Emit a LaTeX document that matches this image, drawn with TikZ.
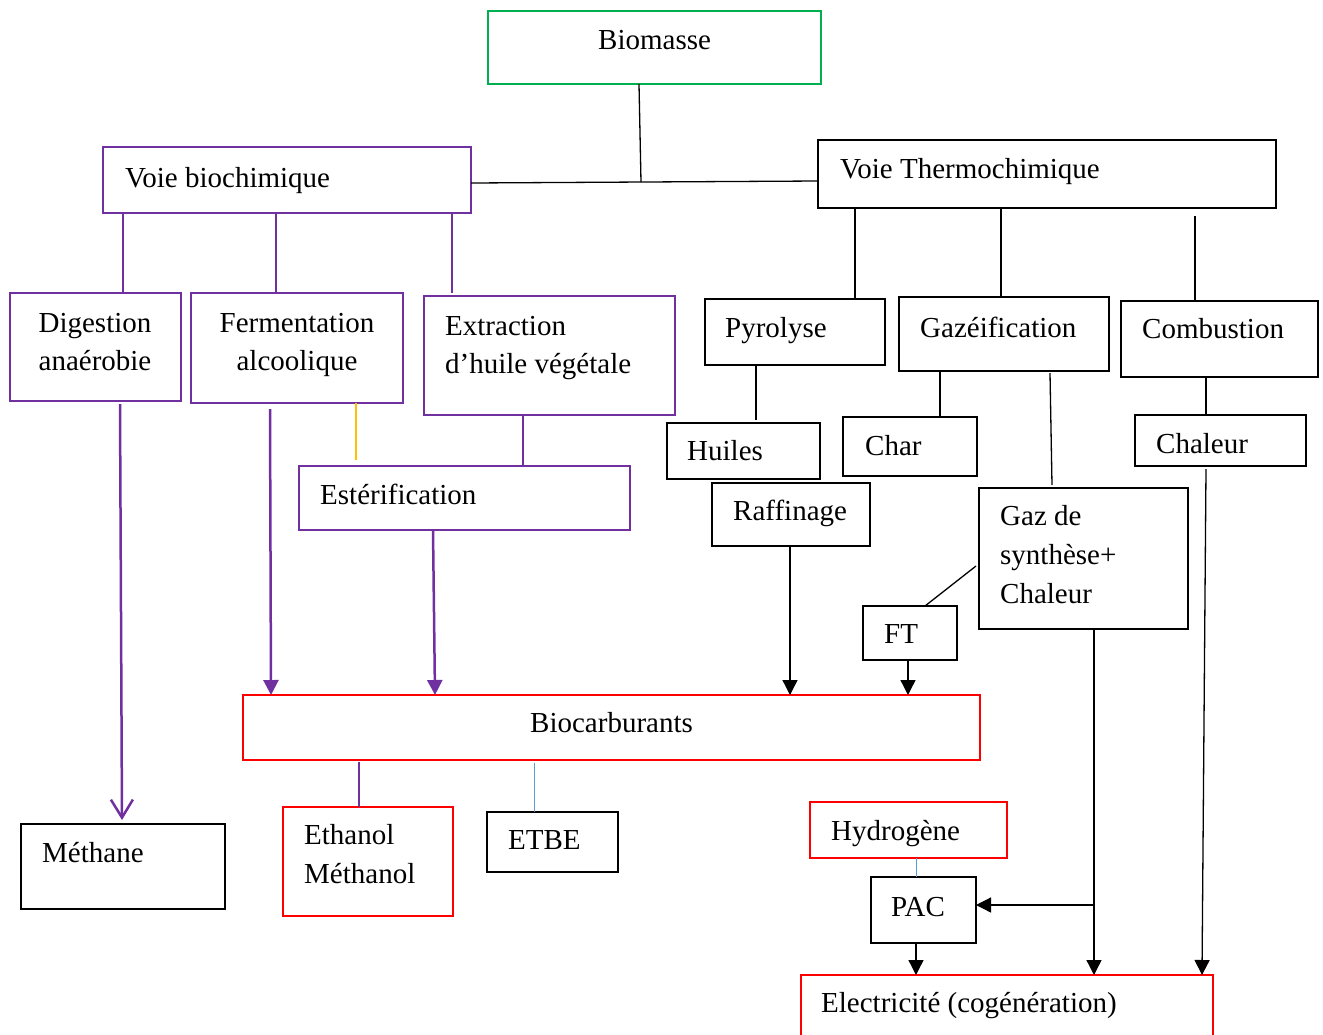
\documentclass[tikz,border=0pt]{standalone}
\usepackage{fontspec}
\setmainfont{Liberation Serif}
\usetikzlibrary{arrows.meta}
\definecolor{vpurple}{RGB}{112,48,160}
\definecolor{vgreen}{RGB}{0,176,80}
\definecolor{vred}{RGB}{255,0,0}
\definecolor{vorange}{RGB}{255,192,0}
\definecolor{vblue}{RGB}{91,155,213}
\newcommand{\bx}[6]{\node[box,draw=#2,minimum width={(#5-#3)*1pt},minimum height={(#6-#4)*1pt}] (#1) at (#3,#4) {};}
\tikzset{
  box/.style={shape=rectangle, anchor=north west, inner sep=0pt, outer sep=0pt, line width=2pt},
  lbl/.style={inner sep=0pt, font=\fontsize{29}{39}\selectfont, text=black},
  conn/.style={line width=1.3pt, draw=black},
  pconn/.style={line width=2.5pt, draw=vpurple},
  arr/.style={-{Triangle[length=15pt,width=15pt]}},
}
\begin{document}
\begin{tikzpicture}[x=1pt,y=-1pt]
\useasboundingbox (0,0) rectangle (1323,1034);
\clip (0,0) rectangle (1323,1034);
\fill[white] (0,0) rectangle (1323,1034);
% boxes
\bx{bio}{vgreen}{488}{11}{821}{84}
\node[lbl,anchor=base west] (tbio) at (598,49) {Biomasse};
\bx{vb}{vpurple}{103}{147}{471}{213}
\node[lbl,anchor=base west] (tvb) at (125,187) {Voie biochimique};
\bx{vt}{black}{818}{140}{1276}{208}
\node[lbl,anchor=base west] (tvt) at (840,178) {Voie Thermochimique};
\bx{dig}{vpurple}{10}{293}{181}{401}
\node[lbl,anchor=base] (tdig1) at (95,332) {Digestion};
\node[lbl,anchor=base] (tdig2) at (95,370) {anaérobie};
\bx{fer}{vpurple}{191}{293}{403}{403}
\node[lbl,anchor=base] (tfer1) at (297,332) {Fermentation};
\node[lbl,anchor=base] (tfer2) at (297,370) {alcoolique};
\bx{ext}{vpurple}{424}{296}{675}{415}
\node[lbl,anchor=base west] (text1) at (445,335) {Extraction};
\node[lbl,anchor=base west] (text2) at (445,373) {d’huile végétale};
\bx{est}{vpurple}{299}{466}{630}{530}
\node[lbl,anchor=base west] (test) at (320,504) {Estérification};
\bx{pyr}{black}{705}{299}{885}{365}
\node[lbl,anchor=base west] (tpyr) at (725,337) {Pyrolyse};
\bx{gaz}{black}{899}{297}{1109}{371}
\node[lbl,anchor=base west] (tgaz) at (920,337) {Gazéification};
\bx{com}{black}{1121}{301}{1318}{377}
\node[lbl,anchor=base west] (tcom) at (1142,338) {Combustion};
\bx{hui}{black}{667}{423}{820}{479}
\node[lbl,anchor=base west] (thui) at (687,460) {Huiles};
\bx{cha}{black}{843}{417}{977}{476}
\node[lbl,anchor=base west] (tcha) at (865,455) {Char};
\bx{chl}{black}{1135}{415}{1306}{466}
\node[lbl,anchor=base west] (tchl) at (1156,453) {Chaleur};
\bx{raf}{black}{712}{483}{870}{546}
\node[lbl,anchor=base west] (traf) at (733,520) {Raffinage};
\bx{syn}{black}{979}{488}{1188}{629}
\node[lbl,anchor=base west] (tsyn1) at (1000,525) {Gaz de};
\node[lbl,anchor=base west] (tsyn2) at (1000,564) {synthèse+};
\node[lbl,anchor=base west] (tsyn3) at (1000,603) {Chaleur};
\bx{ft}{black}{863}{606}{957}{660}
\node[lbl,anchor=base west] (tft) at (884,643) {FT};
\bx{bc}{vred}{243}{695}{980}{760}
\node[lbl,anchor=base west] (tbc) at (530,732) {Biocarburants};
\bx{met}{black}{21}{824}{225}{909}
\node[lbl,anchor=base west] (tmet) at (42,862) {Méthane};
\bx{eth}{vred}{283}{807}{453}{916}
\node[lbl,anchor=base west] (teth1) at (304,844) {Ethanol};
\node[lbl,anchor=base west] (teth2) at (304,883) {Méthanol};
\bx{etbe}{black}{487}{812}{618}{872}
\node[lbl,anchor=base west] (tetbe) at (508,849) {ETBE};
\bx{hyd}{vred}{810}{802}{1007}{858}
\node[lbl,anchor=base west] (thyd) at (831,840) {Hydrogène};
\bx{pac}{black}{871}{877}{976}{943}
\node[lbl,anchor=base west] (tpac) at (891,916) {PAC};
\bx{elec}{vred}{801}{975}{1213}{1050}
\node[lbl,anchor=base west] (telec) at (821,1012) {Electricité (cogénération)};
% connectors
\coordinate (j1) at (641,182);
\draw[conn] (bio.south -| 639,0) -- (j1);
\draw[conn] (vb.east |- 0,183) -- (vt.west |- 0,181);
\draw[pconn] (vb.south -| 123,0) -- (dig.north -| 123,0);
\draw[pconn] (vb.south -| 276,0) -- (fer.north -| 276,0);
\draw[pconn] (vb.south -| 452,0) -- ([yshift=3pt]ext.north -| 452,0);
\draw[conn] (vt.south -| 855,0) -- (pyr.north -| 855,0);
\draw[conn] (vt.south -| 1001,0) -- (gaz.north -| 1001,0);
\draw[conn] ([yshift=-8pt]vt.south -| 1195,0) -- (com.north -| 1195,0);
\draw[pconn,-{Straight Barb[length=18pt,width=22pt]}] ([yshift=-3pt]dig.south -| 120,0) -- ([yshift=4pt]met.north -| 122,0);
\draw[pconn,arr] ([yshift=-6pt]fer.south -| 270,0) -- (bc.north -| 271,0);
\draw[line width=2pt,vorange] (fer.south -| 356,0) -- ([yshift=6pt]est.north -| 356,0);
\draw[pconn] (ext.south -| 523,0) -- (est.north -| 523,0);
\draw[pconn,arr] (est.south -| 433,0) -- (bc.north -| 435,0);
\draw[conn] (pyr.south -| 756,0) -- ([yshift=3pt]hui.north -| 756,0);
\draw[conn] (gaz.south -| 940,0) -- (cha.north -| 940,0);
\draw[conn] ([yshift=-2pt]gaz.south -| 1050,0) -- ([yshift=3pt]syn.north -| 1052,0);
\draw[conn] (com.south -| 1206,0) -- (chl.north -| 1206,0);
\draw[conn,arr] ([yshift=-3pt]chl.south -| 1206,0) -- (elec.north -| 1202,0);
\draw[conn,arr] (raf.south -| 790,0) -- (bc.north -| 790,0);
\draw[conn] ([xshift=-3pt]syn.west |- 0,566) -- (ft.north -| 925,0);
\draw[conn,arr] (ft.south -| 908,0) -- (bc.north -| 908,0);
\coordinate (jp) at (1094,905);
\draw[conn,arr] (syn.south -| jp) -- (elec.north -| jp);
\draw[conn,arr] (jp) -- (pac.east |- jp);
\draw[line width=1pt,vblue] (hyd.south -| 916,0) -- (pac.north -| 916,0);
\draw[conn,arr] (pac.south -| 916,0) -- (elec.north -| 916,0);
\draw[pconn] ([yshift=-2pt]bc.south -| 359,0) -- (eth.north -| 359,0);
\draw[line width=1pt,vblue] ([yshift=-3pt]bc.south -| 534,0) -- (etbe.north -| 534,0);
\end{tikzpicture}
\end{document}
